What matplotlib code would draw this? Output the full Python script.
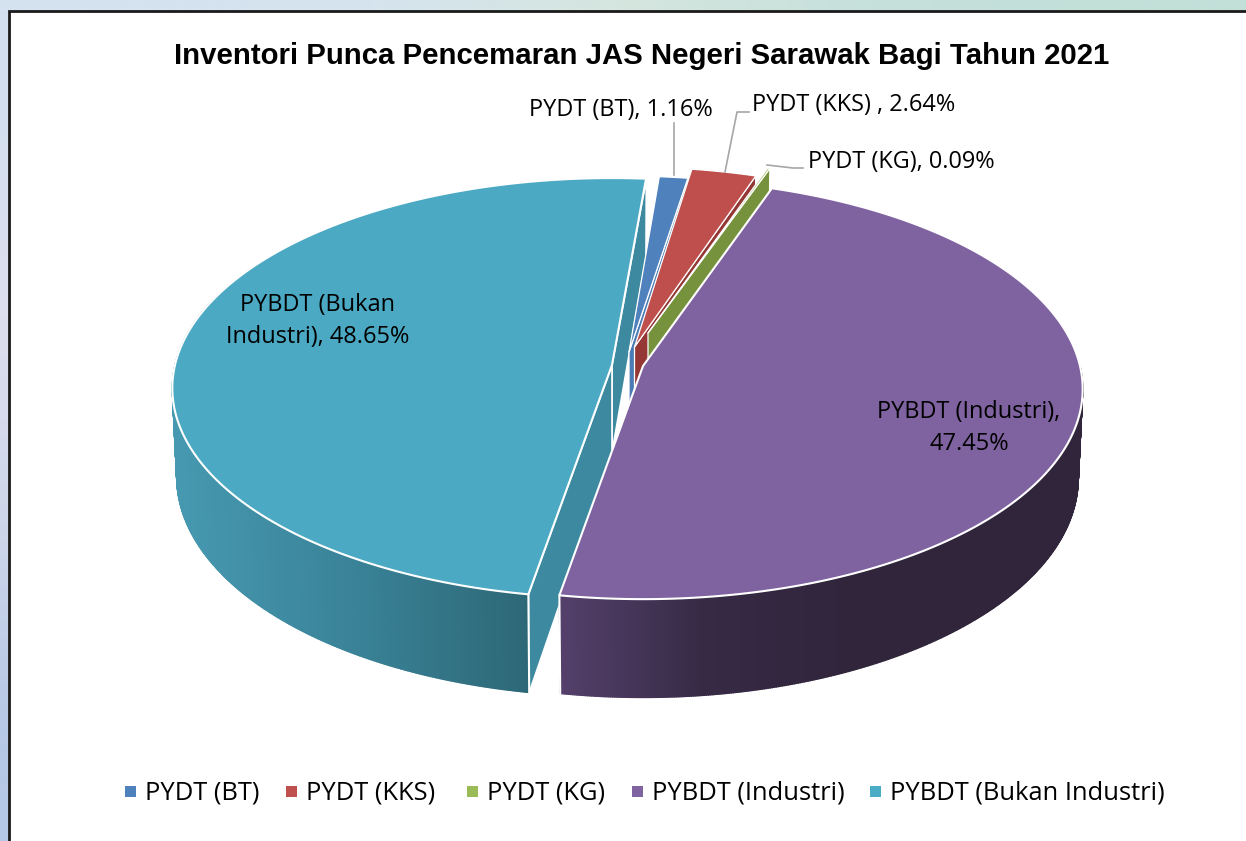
import numpy as np
import matplotlib
matplotlib.use('Agg')
import matplotlib.pyplot as plt
from matplotlib.colors import LinearSegmentedColormap, to_rgb
from matplotlib.patches import Polygon, Rectangle

title = 'Inventori Punca Pencemaran JAS Negeri Sarawak Bagi Tahun 2021'
categories = ['PYDT (BT)', 'PYDT (KKS)', 'PYDT (KG)', 'PYBDT (Industri)', 'PYBDT (Bukan Industri)']
values = [1.16, 2.64, 0.09, 47.45, 48.65]
top_colors = ['#4F81BD', '#BE4F4C', '#9BBB59', '#7F62A0', '#4BA9C3']
wall_colors = ['#4A7BB4', '#953735', '#76923C', '#54406B', '#3D8AA0']
legend_colors = ['#4F81BD', '#C0504D', '#9BBB59', '#8064A2', '#4BACC6']
slice_labels = ['PYDT (BT), 1.16%', 'PYDT (KKS) , 2.64%', 'PYDT (KG), 0.09%',
                'PYBDT (Industri),\n47.45%', 'PYBDT (Bukan\nIndustri), 48.65%']

# layout of the tilted pie, in picture pixels
START_ANGLE = 5.0
RX, RY, TILT, DEPTH = 437, 207.5, 0.11, 87.5
BOTTOM_SCALE = 0.99
apexes = [(625, 363), (629, 354), (641, 346), (643, 366), (612, 365)]
tips = [(629, 352), (634.5, 347), (648, 333), (643, 366), (612, 365)]
label_pos = [(621, 110), (854, 105), (901, 162), (969, 428), (318, 321)]
legend_x = [130, 291, 472, 637, 875]


def rim(apex, theta, drop=0.0):
    t = np.radians(theta)
    w = 1 + TILT * np.cos(t)
    sx = BOTTOM_SCALE if drop else 1.0
    return np.column_stack([apex[0] + sx * RX * np.sin(t) / w,
                            apex[1] - RY * np.cos(t) / w + drop * DEPTH / w])


def centre(tip, drop=0.0):
    return np.array([[tip[0], tip[1] + drop * DEPTH]])


def draw_cut_wall(ax, i, theta, color, z, lw=1.2):
    poly = np.vstack([rim(apexes[i], theta), centre(tips[i]), centre(tips[i], 1), rim(apexes[i], theta, 1)])
    ax.add_patch(Polygon(poly, closed=True, fc=color, ec='white', lw=lw, zorder=z, joinstyle='round'))


def draw_outer_wall(ax, apex, t0, t1, cmap, x0, x1, z):
    angles = np.linspace(t0, t1, 400)
    up = rim(apex, angles)
    down = rim(apex, angles, 1)
    for i in range(len(angles) - 1):
        quad = [up[i], up[i + 1], down[i + 1], down[i]]
        c = cmap(np.clip((up[i][0] - x0) / (x1 - x0), 0, 1))
        ax.add_patch(Polygon(quad, closed=True, fc=c, ec=c, lw=1.0, zorder=z))
    # white corner where the wall meets the cut
    ax.plot([up[0][0], down[0][0]], [up[0][1], down[0][1]], color='white', lw=1.5, zorder=z + 0.1)


def draw_top(ax, i, t0, t1, color, z, lw=1.5):
    angles = np.linspace(t0, t1, max(int(t1 - t0) * 3, 4))
    poly = np.vstack([centre(tips[i]), rim(apexes[i], angles)])
    ax.add_patch(Polygon(poly, closed=True, fc=color, ec='white', lw=lw, zorder=z, joinstyle='round'))


def strip(ax, colors, extent, vertical):
    rgb = np.array([to_rgb(c) for c in colors])
    img = rgb[:, None, :] if vertical else rgb[None, :, :]
    ax.imshow(img, extent=extent, aspect='auto', interpolation='bilinear', zorder=0)


fig = plt.figure(figsize=(12.46, 8.41), dpi=100, facecolor='#D6E2F0')
ax = fig.add_axes([0, 0, 1, 1])

# slide behind the chart, then the chart frame
strip(ax, ['#D3DFEF', '#DEDFEE', '#CDD5EA', '#B5C8E5'], (0, 9, 841, 0), True)
strip(ax, ['#D5E2F0', '#D5E4EE', '#D5E6DF', '#C6E0DC', '#C2DFD8'], (0, 1246, 11, 0), False)
ax.set_xlim(0, 1246)
ax.set_ylim(841, 0)
ax.axis('off')
ax.add_patch(Rectangle((8.8, 10.8), 1300, 900, fc='white', ec='#1A1A1A', lw=2, zorder=1))

edges = START_ANGLE + np.cumsum([0] + values) * 3.6
teal_cmap = LinearSegmentedColormap.from_list('teal', ['#4699B1', '#3A8398', '#2D6877'])
purple_cmap = LinearSegmentedColormap.from_list('purple', ['#54406B', '#362A45', '#30253B'])

# back to front: Bukan Industri, the three small slices, Industri
draw_cut_wall(ax, 4, edges[0] + 360, wall_colors[4], 2)
draw_cut_wall(ax, 4, edges[4], wall_colors[4], 2.1)
draw_outer_wall(ax, apexes[4], edges[4], edges[4] + 100, teal_cmap, 172, 527, 2.2)
draw_top(ax, 4, edges[4], edges[5], top_colors[4], 2.5)

for i in range(3):
    z = 3 + i
    draw_cut_wall(ax, i, edges[i + 1], wall_colors[i], z, lw=0.9)
    draw_top(ax, i, edges[i], edges[i + 1], top_colors[i], z + 0.5, lw=0.9)

draw_outer_wall(ax, apexes[3], edges[4], edges[4] - 100, purple_cmap, 560, 850, 6)
draw_top(ax, 3, edges[3], edges[4], top_colors[3], 6.5)

# leader lines
leader_color = '#A6A6A6'
ax.plot([674, 674], [175, 123], color=leader_color, lw=1.2, zorder=7)
ax.plot([725, 737, 749], [172, 112, 112], color=leader_color, lw=1.2, zorder=7)
ax.plot([767, 793, 803], [165, 168, 168], color=leader_color, lw=1.2, zorder=7)

ax.text(641.5, 56, title, family='Liberation Sans', fontweight='bold', fontsize=21.15,
        ha='center', va='center', color='black', zorder=8)

for text, (x, y) in zip(slice_labels, label_pos):
    ax.text(x, y, text, family='Open Sans', fontsize=16.9, ha='center', va='center',
            color='black', linespacing=1.4, zorder=8)

for name, color, x in zip(categories, legend_colors, legend_x):
    ax.add_patch(Rectangle((x - 5.5, 785.5), 11, 11, fc=color, ec='none', zorder=8))
    ax.text(x + 15, 793, name, family='Open Sans', fontsize=18.4, ha='left', va='center',
            color='black', zorder=8)

fig.savefig('out.png', dpi=100, facecolor=fig.get_facecolor())
